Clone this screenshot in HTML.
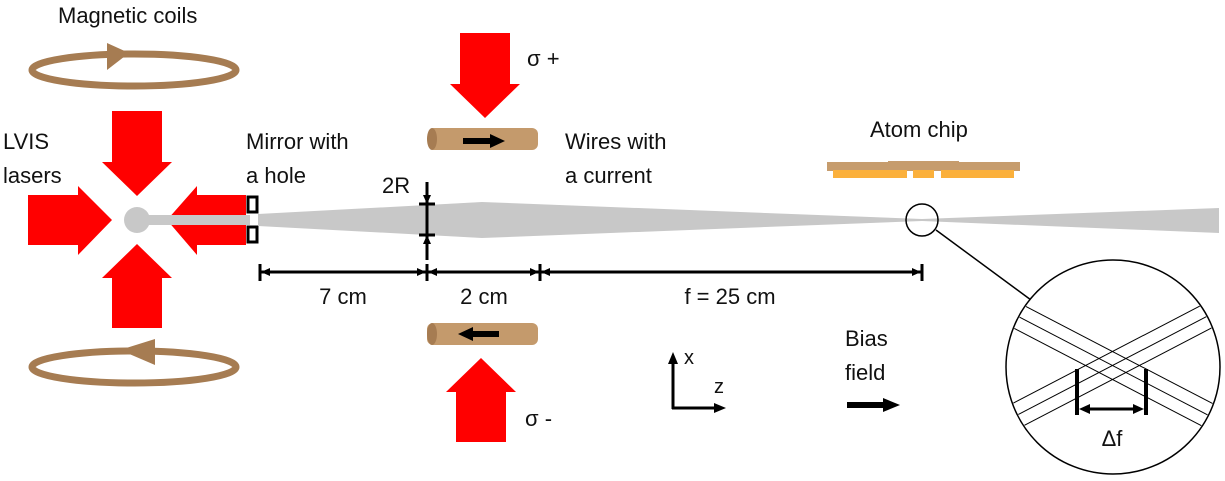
<!DOCTYPE html>
<html><head><meta charset="utf-8"><style>html,body{margin:0;padding:0;background:#fff}svg{display:block}text{font-family:"Liberation Sans",sans-serif;font-size:22px;fill:#111}</style></head><body>
<svg width="1225" height="481" viewBox="0 0 1225 481" xmlns="http://www.w3.org/2000/svg">
<defs><marker id="ah" markerWidth="8" markerHeight="8" refX="7" refY="4" orient="auto" markerUnits="userSpaceOnUse"><path d="M0,0 L8,4 L0,8z" fill="#000"/></marker></defs>
<!-- coils -->
<ellipse cx="134" cy="70" rx="102" ry="16" fill="none" stroke="#a67c52" stroke-width="7"/>
<polygon points="107,43 107,70 129,53" fill="#a67c52"/>
<ellipse cx="134" cy="367" rx="102" ry="16" fill="none" stroke="#a67c52" stroke-width="7"/>
<polygon points="155,339 155,365 120,350" fill="#a67c52"/>
<text x="58" y="23">Magnetic coils</text>
<!-- LVIS arrows -->
<polygon points="112,111 162,111 162,162 172,162 137,196 102,162 112,162" fill="#f00"/>
<polygon points="112,328 162,328 162,278 172,278 137,244 102,278 112,278" fill="#f00"/>
<polygon points="28,195 78,195 78,186 112,220 78,255 78,245 28,245" fill="#f00"/>
<polygon points="246,195 197,195 197,186 167,220 197,255 197,245 246,245" fill="#f00"/>
<line x1="137" y1="220" x2="250" y2="220" stroke="#c8c8c8" stroke-width="10"/>
<circle cx="137" cy="220" r="13" fill="#c8c8c8"/>
<text x="3" y="149">LVIS</text><text x="3" y="183">lasers</text>
<!-- mirror -->
<rect x="248" y="197" width="9" height="15" fill="#fff" stroke="#000" stroke-width="3"/>
<rect x="248" y="227" width="9" height="15" fill="#fff" stroke="#000" stroke-width="3"/>
<text x="246" y="149">Mirror with</text><text x="246" y="183">a hole</text>
<!-- beam -->
<polygon points="258,214 427,205 482,202 922,219 1219,208 1219,233 922,221 482,238 427,235 258,226" fill="#c8c8c8"/>
<!-- 2R -->
<line x1="427" y1="182" x2="427" y2="260" stroke="#000" stroke-width="3"/>
<line x1="419" y1="204" x2="435" y2="204" stroke="#000" stroke-width="3"/>
<line x1="419" y1="235" x2="435" y2="235" stroke="#000" stroke-width="3"/>
<polygon points="423,195 431,195 427,204" fill="#000"/>
<polygon points="423,244 431,244 427,235" fill="#000"/>
<text x="382" y="193">2R</text>
<!-- dimension -->
<g stroke="#000" stroke-width="3">
<line x1="260" y1="272" x2="922" y2="272"/>
<line x1="260" y1="264" x2="260" y2="281"/><line x1="427" y1="264" x2="427" y2="281"/>
<line x1="540" y1="264" x2="540" y2="281"/><line x1="922" y1="264" x2="922" y2="281"/>
</g>
<g fill="#000">
<polygon points="261,272 270,268 270,276"/><polygon points="426,272 417,268 417,276"/>
<polygon points="428,272 437,268 437,276"/><polygon points="539,272 530,268 530,276"/>
<polygon points="541,272 550,268 550,276"/><polygon points="921,272 912,268 912,276"/>
</g>
<text x="343" y="304" text-anchor="middle">7 cm</text>
<text x="484" y="304" text-anchor="middle">2 cm</text>
<text x="730" y="304" text-anchor="middle">f = 25 cm</text>
<!-- sigma arrows -->
<polygon points="460,33 510,33 510,84 520,84 485,118 450,84 460,84" fill="#f00"/>
<text x="527" y="66">σ +</text>
<polygon points="456,442 506,442 506,392 516,392 481,358 446,392 456,392" fill="#f00"/>
<text x="525" y="426">σ -</text>
<!-- wires -->
<rect x="428" y="128" width="110" height="22" rx="6" fill="#c49a6c"/>
<ellipse cx="432" cy="139" rx="5" ry="11" fill="#a67c52"/>
<line x1="463" y1="141" x2="493" y2="141" stroke="#000" stroke-width="6"/><polygon points="490,134 505,141 490,148" fill="#000"/>
<rect x="427" y="323" width="111" height="22" rx="6" fill="#c49a6c"/>
<ellipse cx="432" cy="334" rx="5" ry="11" fill="#a67c52"/>
<line x1="499" y1="334" x2="470" y2="334" stroke="#000" stroke-width="6"/><polygon points="473,327 458,334 473,341" fill="#000"/>
<text x="565" y="149">Wires with</text><text x="565" y="183">a current</text>
<!-- atom chip -->
<text x="870" y="137">Atom chip</text>
<rect x="827" y="162" width="193" height="9" fill="#c69c6d"/>
<rect x="888" y="161" width="71" height="3" fill="#c69c6d"/>
<rect x="833" y="170" width="74" height="8" fill="#fbb03b"/>
<rect x="913" y="170" width="21" height="8" fill="#fbb03b"/>
<rect x="941" y="170" width="73" height="8" fill="#fbb03b"/>
<!-- zoom circles -->
<circle cx="922" cy="220" r="16" fill="none" stroke="#000" stroke-width="1.5"/>
<line x1="936" y1="230" x2="1031" y2="300" stroke="#000" stroke-width="1.5"/>
<circle cx="1113" cy="367" r="107" fill="#fff" stroke="#000" stroke-width="1.5"/>
<clipPath id="cc"><circle cx="1113" cy="367" r="106"/></clipPath>
<g clip-path="url(#cc)" stroke="#000" stroke-width="1">
<line x1="1000" y1="293" x2="1225" y2="410"/>
<line x1="1000" y1="307" x2="1225" y2="424"/>
<line x1="1000" y1="321" x2="1225" y2="438"/>
<line x1="1000" y1="410" x2="1225" y2="293"/>
<line x1="1000" y1="424" x2="1225" y2="307"/>
<line x1="1000" y1="438" x2="1225" y2="321"/>
</g>
<line x1="1077" y1="369" x2="1077" y2="415" stroke="#000" stroke-width="4"/>
<line x1="1146" y1="369" x2="1146" y2="415" stroke="#000" stroke-width="4"/>
<line x1="1086" y1="409" x2="1137" y2="409" stroke="#000" stroke-width="3"/>
<polygon points="1079,409 1090,404 1090,414" fill="#000"/><polygon points="1144,409 1133,404 1133,414" fill="#000"/>
<text x="1112" y="446" text-anchor="middle">Δf</text>
<!-- axes -->
<line x1="673" y1="409" x2="673" y2="362" stroke="#000" stroke-width="3"/>
<polygon points="668,364 678,364 673,352" fill="#000"/>
<line x1="672" y1="408" x2="716" y2="408" stroke="#000" stroke-width="3"/>
<polygon points="714,403 726,408 714,413" fill="#000"/>
<text x="684" y="364" style="font-size:20px">x</text>
<text x="714" y="393" style="font-size:20px">z</text>
<!-- bias -->
<text x="845" y="346">Bias</text><text x="845" y="380">field</text>
<line x1="847" y1="405" x2="885" y2="405" stroke="#000" stroke-width="6"/>
<polygon points="883,398 900,405 883,412" fill="#000"/>
</svg>
</body></html>
